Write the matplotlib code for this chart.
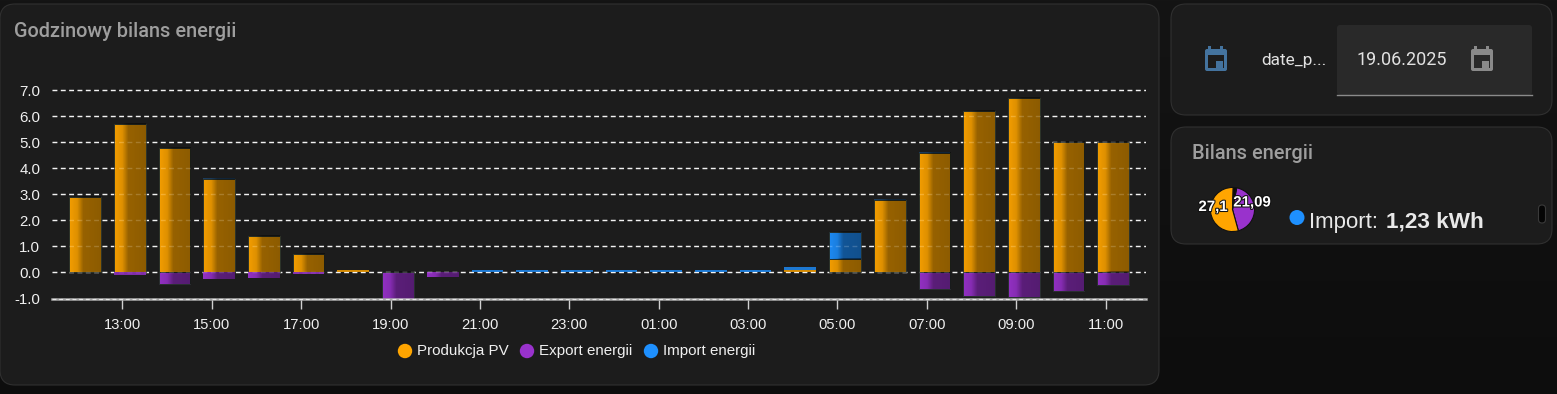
#!/usr/bin/env python3
import numpy as np
import matplotlib
matplotlib.use("Agg")
import matplotlib.pyplot as plt
import matplotlib.patheffects as pe
from matplotlib.colors import LinearSegmentedColormap
from matplotlib.patches import FancyBboxPatch, Rectangle, Circle

# -----------------------------
# Data
# -----------------------------
hours = ["12:00", "13:00", "14:00", "15:00", "16:00", "17:00", "18:00", "19:00",
         "20:00", "21:00", "22:00", "23:00", "00:00", "01:00", "02:00", "03:00",
         "04:00", "05:00", "06:00", "07:00", "08:00", "09:00", "10:00", "11:00"]
produkcja = [2.9, 5.7, 4.8, 3.6, 1.4, 0.7, 0.08, 0, 0, 0, 0, 0,
             0, 0, 0, 0, 0.1, 0.5, 2.8, 4.6, 6.2, 6.7, 5.0, 5.0]
export = [0, -0.08, -0.45, -0.25, -0.2, -0.06, 0, -1.0, -0.17, 0, 0, 0,
          0, 0, 0, 0, 0, 0, 0, -0.65, -0.9, -0.95, -0.7, -0.5]
imported = [0.01, 0.01, 0, 0.01, 0, 0, 0.01, 0, 0, 0.08, 0.08, 0.08,
            0.08, 0.08, 0.08, 0.08, 0.1, 1.05, 0.01, 0.01, 0.01, 0, 0, 0]
y_ticks = [-1.0, 0.0, 1.0, 2.0, 3.0, 4.0, 5.0, 6.0, 7.0]
x_tick_hours = ["13:00", "15:00", "17:00", "19:00", "21:00", "23:00",
                "01:00", "03:00", "05:00", "07:00", "09:00", "11:00"]
legend_names = ["Produkcja PV", "Export energii", "Import energii"]
pie_values = [21.09, 27.1, 1.23]
pie_labels = ["21,09", "27,1"]

ORANGE = "#ffa500"
PURPLE = "#9932cc"
BLUE = "#1e90ff"
CARD = "#1c1c1c"
W, H = 1557, 394
HOUR_PX = 44.7

plt.rcParams["font.family"] = ["Liberation Sans", "DejaVu Sans"]
fig = plt.figure(figsize=(W / 100, H / 100), dpi=100, facecolor="#111111")


def px_axes(x0, y0, x1, y1):
    return fig.add_axes([x0 / W, 1 - y1 / H, (x1 - x0) / W, (y1 - y0) / H])


# -----------------------------
# Cards and header texts
# -----------------------------
bg = fig.add_axes([0, 0, 1, 1])
bg.imshow(np.linspace(0, 1, 200).reshape(-1, 1), extent=(0, W, H, 0), aspect="auto",
          cmap=LinearSegmentedColormap.from_list("page", ["#141414", "#0d0d0d"]))
bg.set_xlim(0, W)
bg.set_ylim(H, 0)
bg.axis("off")


def card(x0, y0, x1, y1, r=15):
    bg.add_patch(FancyBboxPatch((x0 + r, y0 + r), x1 - x0 - 2 * r, y1 - y0 - 2 * r,
                                boxstyle=f"round,pad={r},rounding_size={r}",
                                fc=CARD, ec="#303030", lw=0.8))


def calendar(cx, color, inner):
    bg.add_patch(FancyBboxPatch((cx - 11, 49), 22, 22, boxstyle="round,pad=0,rounding_size=2",
                                fc=color, ec="none"))
    bg.add_patch(Rectangle((cx - 8, 55), 16, 13, fc=inner, ec="none"))
    bg.add_patch(Rectangle((cx, 60.5), 7, 7.5, fc=color, ec="none"))
    bg.add_patch(Rectangle((cx - 7.5, 46), 3, 5, fc=color, ec="none"))
    bg.add_patch(Rectangle((cx + 4.5, 46), 3, 5, fc=color, ec="none"))


card(0, 4, 1159, 385)
card(1171, 4, 1552, 115)
card(1171, 127, 1552, 244)

bg.text(14, 31, "Godzinowy bilans energii", color="#9e9e9e", fontsize=14.3,
        family="Roboto", fontweight="medium", va="center")
bg.text(1192, 153, "Bilans energii", color="#9e9e9e", fontsize=14.3,
        family="Roboto", fontweight="medium", va="center")

calendar(1216, "#44739e", CARD)
bg.text(1261, 60, "date_p...", color="#e1e1e1", fontsize=12.4, family="Roboto", va="center")
bg.add_patch(FancyBboxPatch((1337, 25), 195, 70, boxstyle="round,pad=0,rounding_size=3",
                            fc="#292929", ec="none"))
bg.plot([1337, 1532], [94.5, 94.5], color="#8a8a8a", lw=1)
bg.text(1357, 60, "19.06.2025", color="#e1e1e1", fontsize=13, family="Roboto", va="center")
calendar(1482, "#8a8a8a", "#292929")

bg.add_patch(Circle((1297, 217.5), 7.5, fc=BLUE, ec="none"))
bg.text(1309, 222, "Import:", color="#e8e8e8", fontsize=16, va="center")
bg.text(1386, 222, "1,23 kWh", color="#e8e8e8", fontsize=16.2, fontweight="bold", va="center")
bg.add_patch(FancyBboxPatch((1538.5, 205), 7, 18, boxstyle="round,pad=0,rounding_size=3.5",
                            fc="#050505", ec="#3a3a3a", lw=0.8))

# -----------------------------
# Bar chart
# -----------------------------
ax_x0, ax_x1 = 52, 1146
ax = px_axes(ax_x0, 64.2, ax_x1, 298.5)
ax.patch.set_alpha(0)
x = np.arange(len(hours))
BAR_W = 31.7 / HOUR_PX
xlims = ((ax_x0 - 85.1) / HOUR_PX, (ax_x1 - 85.1) / HOUR_PX)
ylims = (-1.0, 8.0)
dash = (0, (3.5, 2.5))

ax.set_axisbelow(True)
ax.grid(axis="y", color="#f2f2f2", ls=dash, lw=1)
ax.set_yticks(y_ticks, [f"{v:.1f}" for v in y_ticks])

# poziomy gradient na slupkach: jasna lewa strona, ciemna prawa
shade = LinearSegmentedColormap.from_list(
    "shade", [(0.0, (0, 0, 0, 0.0)), (0.25, (0, 0, 0, 0.08)), (0.45, (0, 0, 0, 0.38)), (1.0, (0, 0, 0, 0.42))])
grad = np.linspace(0, 1, 32).reshape(1, -1)

series = [(np.array(produkcja), np.zeros(len(x)), ORANGE),
          (np.array(imported), np.array(produkcja), BLUE),
          (np.array(export), np.zeros(len(x)), PURPLE)]
for vals, bottoms, color in series:
    bars = ax.bar(x, vals, BAR_W, bottom=bottoms, color=color, alpha=0.95, lw=0, zorder=2)
    for b, v in zip(bars, vals):
        if v == 0:
            continue
        # imshow na bardzo cienkim slupku daje czarny pasek, wiec tylko przyciemniamy
        if abs(v) < 0.15:
            b.set_alpha(0.8 if abs(v) >= 0.03 else 0.3)
            if abs(v) >= 0.03:
                b.set_zorder(5)
            continue
        if abs(v) > 0.3:
            b.set_edgecolor("#26302c")
            b.set_linewidth(0.7)
        x0, y0 = b.get_x(), b.get_y()
        ax.imshow(grad, extent=(x0, x0 + b.get_width(), y0, y0 + b.get_height()),
                  cmap=shade, vmin=0, vmax=1, aspect="auto", origin="lower",
                  zorder=3, interpolation="bilinear")

# siatka przeswituje przez slupki
ax.hlines(y_ticks[1:], xlims[0], xlims[1], color="#f2f2f2", ls=dash, lw=1,
          alpha=0.16, zorder=4)
ax.hlines(y_ticks[0], xlims[0], xlims[1], color="#e8e8e8", ls=dash, lw=0.8,
          clip_on=False, zorder=6)
ax.set_xlim(*xlims)
ax.set_ylim(*ylims)

tick_pos = [hours.index(h) - 7.5 / HOUR_PX for h in x_tick_hours]
ax.set_xticks(tick_pos, x_tick_hours)
ax.tick_params(axis="x", length=7, width=1, color="#d0d0d0", labelcolor="#f0f0f0",
               labelsize=10.6, pad=7)
ax.tick_params(axis="y", length=0, labelcolor="#f0f0f0", labelsize=10.8, pad=8.5)
for s in ["top", "left", "right"]:
    ax.spines[s].set_visible(False)
ax.spines["bottom"].set_color("#a8a8a8")
ax.spines["bottom"].set_linewidth(1.8)

# legend
for cx, tx, name, color in zip([405, 527, 651], [417, 539, 663], legend_names, [ORANGE, PURPLE, BLUE]):
    bg.add_patch(Circle((cx, 351), 7.2, fc=color, ec="none"))
    bg.text(tx, 351, name, color="#f0f0f0", fontsize=10.9, va="center")

# -----------------------------
# Pie
# -----------------------------
pie_ax = px_axes(1210, 187, 1255, 232)
pie_ax.pie(pie_values, colors=[PURPLE, ORANGE, "#0b0b0b"], startangle=79,
           counterclock=False, radius=1,
           wedgeprops={"edgecolor": "#111111", "linewidth": 0.8})
pie_ax.set_xlim(-1.02, 1.02)
pie_ax.set_ylim(-1.02, 1.02)

text_ax = fig.add_axes([0, 0, 1, 1], zorder=5)
text_ax.set_xlim(0, W)
text_ax.set_ylim(H, 0)
text_ax.axis("off")
for tx, ty, label in zip([1252, 1213], [202.5, 207], pie_labels):
    text_ax.text(tx, ty, label, color="white", fontsize=10.8, fontweight="bold",
                 ha="center", va="center",
                 path_effects=[pe.withStroke(linewidth=1.5, foreground="#111111")])

fig.savefig("out.png", dpi=100, facecolor=fig.get_facecolor())
